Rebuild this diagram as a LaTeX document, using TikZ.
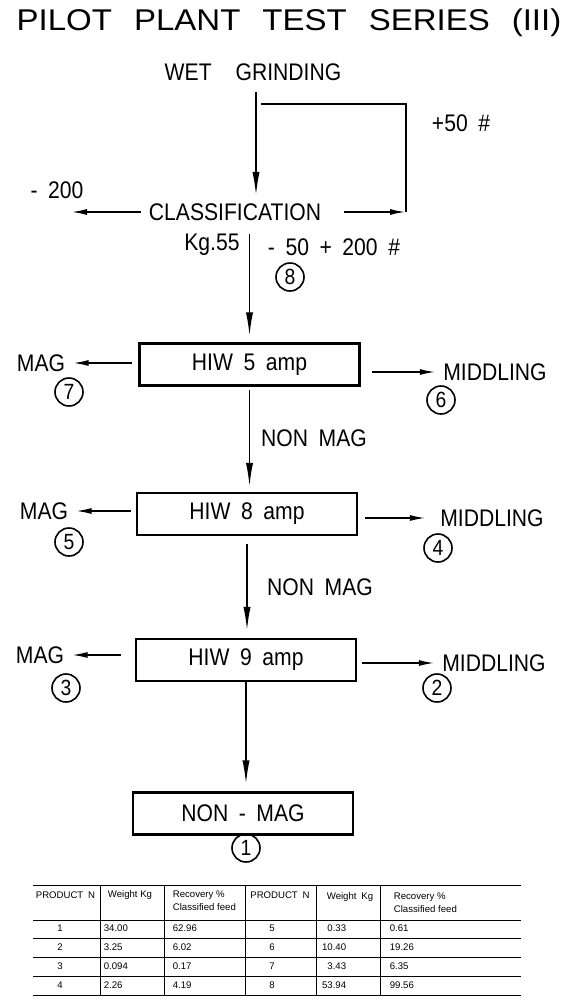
\documentclass[tikz,border=0pt]{standalone}
\usepackage{fontspec}
\setmainfont{Liberation Sans}[FakeStretch=0.88, WordSpace=1.8]
\newfontfamily\titlefont{Liberation Sans}[FakeStretch=1.1]
\newfontfamily\tabfont{Liberation Sans}
\usetikzlibrary{arrows.meta, positioning}

\begin{document}
\begin{tikzpicture}[
        x=0.5pt, y=-0.5pt,
        line width=0.9pt,
        font=\fontsize{12}{14}\selectfont,
        % Style for the flow arrows between stages
        flow/.style={-{Latex[length=12pt,width=3.6pt]}},
        % Style for the side outputs
        side/.style={-{Latex[length=8pt,width=3pt]}},
        % Style for the separator boxes
        stage/.style={rectangle, draw=black, line width=1.1pt, minimum width=110pt, minimum height=21pt},
        % Style for the circled product numbers
        prod/.style={circle, draw=black, line width=0.8pt, minimum size=14pt, inner sep=0pt, font=\fontsize{11}{12}\selectfont},
        % Style for the table entries
        cell/.style={inner sep=0pt, font=\tabfont\fontsize{4.8}{6.5}\selectfont}
    ]
    \useasboundingbox (0,0) rectangle (573,1002);

    % --- Title ---
    \node[font=\titlefont\fontsize{15}{17}\selectfont] (title) at (289,23) {\spaceskip=11pt PILOT PLANT TEST SERIES (III)};

    % --- Grinding and classification ---
    \node (wet) at (253,72) {WET\quad GRINDING};
    \node (cls) at (235,212) {CLASSIFICATION};
    \node (plus) at (461,123) {+50 \#};
    \node (fine) at (57,190) {- 200};
    \node (kg) at (212,245) {Kg.55};
    \node (size) at (334,247) {- 50 + 200 \#};
    \node[prod] (n8) at (290,277) {8};

    \coordinate (fines) at (71,210);
    \coordinate (recA) at (406,215);
    \coordinate (recB) at (406,104);
    \coordinate (recC) at (261,104);

    \draw[flow, shorten <=2pt] ([xshift=1.5pt]wet.south) -- ([xshift=1.5pt]wet.south |- cls.north);
    \draw[side] (cls.west) -- (cls.west -| fines);
    \draw[side, shorten <=7.5pt] (cls.east) -- (cls.east -| recA);
    \draw (cls.east -| recA) -- (recB) -- (recC);

    % --- Magnetic separators ---
    \node[stage] (hiw5) at (249.5,364.5) {HIW 5 amp};
    \node[stage] (hiw8) at (247,514) {HIW 8 amp};
    \node[stage] (hiw9) at (246,660) {HIW 9 amp};
    \node[stage] (nonmag) at (243,813.5) {NON - MAG};
    \node[prod] (n1) at (246,848) {1};

    \node (magA) at (41,363) {MAG};
    \node (magB) at (44,511) {MAG};
    \node (magC) at (40,655) {MAG};
    \node[prod] (n7) at (69,392) {7};
    \node[prod] (n5) at (69,542) {5};
    \node[prod] (n3) at (66,688) {3};

    \node (midA) at (495,372) {MIDDLING};
    \node (midB) at (492,518) {MIDDLING};
    \node (midC) at (494,663) {MIDDLING};
    \node[prod] (n6) at (441,400) {6};
    \node[prod] (n4) at (438,548) {4};
    \node[prod] (n2) at (437,688) {2};

    \node (nmA) at (314,438) {NON MAG};
    \node (nmB) at (320,587) {NON MAG};

    % --- Main flow ---
    \draw[flow, shorten <=3pt, shorten >=3pt] (hiw5.north |- cls.south) -- (hiw5.north);
    \draw[flow, shorten <=1.5pt, shorten >=2.5pt] (hiw5.south) -- (hiw5.south |- hiw8.north);
    \draw[flow, shorten <=4pt, shorten >=3.5pt] (hiw8.south) -- (hiw8.south |- hiw9.north);
    \draw[flow, shorten >=3.5pt] (hiw9.south) -- (hiw9.south |- nonmag.north);

    % --- Side products ---
    \draw[side, shorten <=3pt] (hiw5.west |- magA) -- (magA);
    \draw[side, shorten <=2.5pt] (hiw8.west |- magB) -- (magB);
    \draw[side, shorten <=7pt] (hiw9.west |- magC) -- (magC);
    \draw[side, shorten <=5.5pt] (hiw5.east |- midA) -- (midA);
    \draw[side, shorten <=3.5pt, shorten >=3.5pt] (hiw8.east |- midB) -- (midB);
    \draw[side, shorten <=2.5pt] (hiw9.east |- midC) -- (midC);

    % --- Results table ---
    \foreach \ty in {885,920,938,957,976,995}
        \draw[line width=0.5pt] (33,\ty) -- (521,\ty);
    \foreach \tx in {100.5,164.5,245.5,316,380}
        \draw[line width=0.5pt] (\tx,885) -- (\tx,995);

    \node[cell, anchor=west] (h1) at (35,895) {PRODUCT\enspace N};
    \node[cell] (h2) at (130,895) {Weight Kg};
    \node[cell, anchor=west, align=left] (h3) at (172,901) {Recovery \%\\Classified feed};
    \node[cell] (h4) at (280,895) {PRODUCT\enspace N};
    \node[cell] (h5) at (350,897) {Weight\enspace Kg};
    \node[cell, anchor=west, align=left] (h6) at (393,903) {Recovery \%\\Classified feed};

    \foreach \pa/\wa/\ra/\pb/\wb/\rb [count=\i] in {1/34.00/62.96/5/0.33/0.61, 2/3.25/6.02/6/10.40/19.26, 3/0.094/0.17/7/3.43/6.35, 4/2.26/4.19/8/53.94/99.56} {
        \node[cell] (pa\i) at (60,909+19*\i) {\pa};
        \node[cell, anchor=west] (wa\i) at (103,909+19*\i) {\wa};
        \node[cell, anchor=west] (ra\i) at (172,909+19*\i) {\ra};
        \node[cell] (pb\i) at (272,909+19*\i) {\pb};
        \node[cell, anchor=east] (wb\i) at (347,909+19*\i) {\wb};
        \node[cell, anchor=west] (rb\i) at (389,909+19*\i) {\rb};
    }
\end{tikzpicture}
\end{document}
